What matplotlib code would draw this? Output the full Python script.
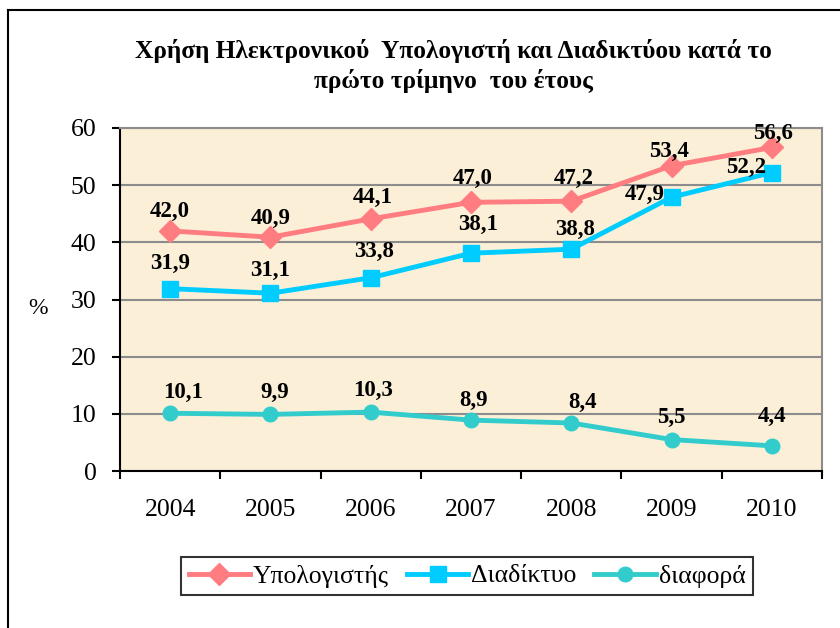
import matplotlib.pyplot as plt
from matplotlib.lines import Line2D

years = ['2004', '2005', '2006', '2007', '2008', '2009', '2010']
computer = [42.0, 40.9, 44.1, 47.0, 47.2, 53.4, 56.6]
internet = [31.9, 31.1, 33.8, 38.1, 38.8, 47.9, 52.2]
diff = [10.1, 9.9, 10.3, 8.9, 8.4, 5.5, 4.4]
series_names = ['Υπολογιστής', 'Διαδίκτυο', 'διαφορά']
title = 'Χρήση Ηλεκτρονικού  Υπολογιστή και Διαδικτύου κατά το\nπρώτο τρίμηνο  του έτους'

plt.rcParams['font.family'] = ['Liberation Serif', 'DejaVu Serif']

fig = plt.figure(figsize=(8.4, 6.28), dpi=100)
fig.patch.set_facecolor('white')

# outer chart frame (only top and left edges visible)
fig.add_artist(Line2D([8 / 840, 1.0], [1 - 10 / 628, 1 - 10 / 628], color='black', lw=1.5,
                      transform=fig.transFigure))
fig.add_artist(Line2D([8 / 840, 8 / 840], [0, 1 - 10 / 628], color='black', lw=1.5,
                      transform=fig.transFigure))

ax = fig.add_axes([120 / 840, 157 / 628, 702 / 840, 343 / 628])
ax.set_facecolor('#FBEFD8')

x = list(range(len(years)))
styles = [
    dict(color='#FF7C80', marker='D', markersize=11),
    dict(color='#00CCFF', marker='s', markersize=11.5),
    dict(color='#33CCCC', marker='o', markersize=10.5),
]
data = [computer, internet, diff]
for vals, name, st in zip(data, series_names, styles):
    ax.plot(x, vals, lw=3.5, label=name, zorder=3, **st)

# data labels (offsets in pixels)
def label(vals, offsets):
    for i, v in enumerate(vals):
        dx, dy = offsets[i]
        ax.annotate(f'{v:.1f}'.replace('.', ','), (i, v), xytext=(dx, dy),
                    textcoords='offset pixels', ha='center', va='center',
                    fontsize=16.5, fontweight='bold', zorder=4)

label(computer, [(0, 19), (0, 19), (2, 21), (2, 24), (2, 23), (-3, 14), (1, 14)])
label(internet, [(0, 25), (0, 23), (3, 26), (7, 29), (4, 20), (-27, 3), (-26, 5)])
label(diff, [(13, 21), (4, 22), (2, 22), (3, 20), (11, 21), (0, 22), (0, 29)])

ax.set_xlim(-0.5, len(years) - 0.5)
ax.set_ylim(0, 60)
ax.set_yticks(range(0, 61, 10))
ax.set_xticks(x)
ax.set_xticklabels(years)
ax.set_xticks([i + 0.5 for i in range(-1, len(years))], minor=True)
ax.tick_params(axis='x', which='major', length=0, pad=20, labelsize=18.5)
ax.tick_params(axis='x', which='minor', length=6, width=1.5, color='black')
ax.tick_params(axis='y', length=6, width=1.5, pad=11, labelsize=18.5)
ax.grid(axis='y', color='#8C8C8C', lw=1.5)
ax.set_axisbelow(True)

for side in ['top', 'right']:
    ax.spines[side].set_color('#8C8C8C')
    ax.spines[side].set_linewidth(1.5)
for side in ['left', 'bottom']:
    ax.spines[side].set_color('black')
    ax.spines[side].set_linewidth(1.5)

fig.text(38 / 840, 1 - 308 / 628, '%', fontsize=17, ha='center', va='center')
fig.text(453 / 840, 1 - 66 / 628, title, fontsize=18.3, fontweight='bold',
         ha='center', va='center', linespacing=1.3)

leg = fig.legend(loc='center', bbox_to_anchor=(467 / 840, 1 - 576 / 628), ncol=3,
                 fontsize=18.5, frameon=True, fancybox=False, handlelength=2.4,
                 handletextpad=0.1, columnspacing=0.7, borderpad=0.3)
leg.get_frame().set_edgecolor('black')
leg.get_frame().set_linewidth(1.5)

fig.savefig('out.png', dpi=100)
